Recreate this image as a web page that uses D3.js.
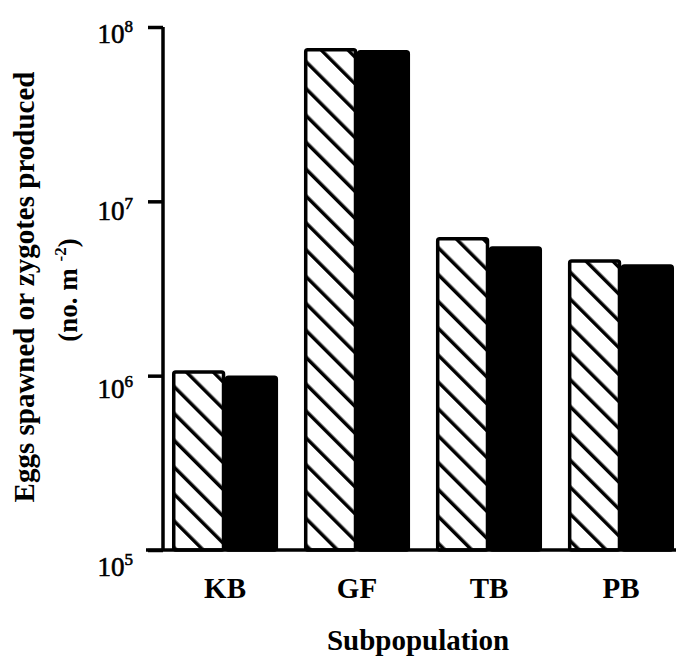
<!DOCTYPE html>
<html><head><meta charset="utf-8">
<script src="https://cdn.jsdelivr.net/npm/d3@7"></script>
<style>body{margin:0;background:#fff}svg{display:block}</style>
</head><body>
<script>
const categories = ["KB", "GF", "TB", "PB"];
const seriesNames = ["Eggs spawned", "Zygotes produced"];
const eggsSpawned = [1.05e6, 7.4e7, 6.1e6, 4.55e6];
const zygotesProduced = [0.98e6, 7.2e7, 5.4e6, 4.25e6];
const yTickExponents = [5, 6, 7, 8];

const FONT = "Liberation Serif, Times New Roman, serif";
const W = 676, H = 666;
const svg = d3.select("body").append("svg").attr("width", W).attr("height", H);
const defs = svg.append("defs");
const pat = defs.append("pattern").attr("id", "hatch").attr("patternUnits", "userSpaceOnUse")
  .attr("width", 19).attr("height", 19).attr("patternTransform", "rotate(-45)");
pat.append("rect").attr("width", 19).attr("height", 19).attr("fill", "#fff");
pat.append("line").attr("x1", 0).attr("y1", 0).attr("x2", 0).attr("y2", 19)
  .attr("stroke", "#000").attr("stroke-width", 7);

const y = d3.scaleLog().domain([1e5, 1e8]).range([550, 27]);
const labelY = d3.scaleLog().domain([1e5, 1e8]).range([575, 42]);
const x0 = d3.scaleBand().domain(categories).range([163, 683]).paddingInner(0.2).paddingOuter(0.07);
const x1 = d3.scaleBand().domain(seriesNames).range([0, x0.bandwidth()]);

const data = categories.map((c, i) => ({cat: c, vals: [eggsSpawned[i], zygotesProduced[i]]}));

const g = svg.append("g");
data.forEach(d => {
  d.vals.forEach((v, j) => {
    g.append("rect")
      .attr("x", x0(d.cat) + x1(seriesNames[j]) + 1.5)
      .attr("y", y(v))
      .attr("width", x1.bandwidth() - 3)
      .attr("height", y(1e5) - y(v))
      .attr("rx", 2)
      .attr("fill", j === 0 ? "url(#hatch)" : "#000")
      .attr("stroke", "#000").attr("stroke-width", 3.5);
  });
});

// y axis
const yAxis = d3.axisLeft(y).tickValues(yTickExponents.map(e => Math.pow(10, e))).tickSize(15).tickFormat("");
const ya = svg.append("g").attr("transform", "translate(163,0)").call(yAxis);
ya.select(".domain").attr("stroke-width", 3.5).attr("d", "M0," + y(1e8) + "V" + y(1e5));
ya.selectAll(".tick line").attr("stroke-width", 3.5);
ya.selectAll(".tick").each(function(v) {
  const t = d3.select(this).append("text").attr("x", -30).attr("y", labelY(v) - y(v))
    .attr("text-anchor", "end").attr("font-family", FONT)
    .attr("fill", "#000").attr("stroke", "#000").attr("stroke-width", 0.6);
  t.append("tspan").attr("font-size", 27).text("10");
  t.append("tspan").attr("font-size", 17).attr("dy", -11).text(String(Math.round(Math.log10(v))));
});

// baseline
svg.append("line").attr("x1", 146).attr("x2", 676).attr("y1", 550).attr("y2", 550)
  .attr("stroke", "#000").attr("stroke-width", 3.5);

// x labels
const xAxis = d3.axisBottom(x0).tickSize(0);
const xa = svg.append("g").attr("transform", "translate(0,550)").call(xAxis);
xa.select(".domain").remove();
xa.selectAll(".tick text").attr("y", 48).attr("dy", 0).attr("font-size", 29).attr("font-weight", "bold")
  .attr("font-family", FONT).attr("fill", "#000");

svg.append("text").attr("x", 418).attr("y", 650).attr("text-anchor", "middle")
  .attr("font-family", FONT).attr("font-weight", "bold")
  .attr("font-size", 29).text("Subpopulation");

const yt = svg.append("text").attr("transform", "translate(0,287) rotate(-90)")
  .attr("text-anchor", "middle").attr("font-family", FONT)
  .attr("font-weight", "bold").attr("font-size", 29);
yt.append("tspan").attr("x", 0).attr("y", 34).text("Eggs spawned or zygotes produced");
const l2 = svg.append("text").attr("transform", "translate(0,290) rotate(-90)")
  .attr("text-anchor", "middle").attr("font-family", FONT)
  .attr("font-weight", "bold").attr("font-size", 27);
l2.append("tspan").attr("x", 0).attr("y", 77).text("(no. m ");
l2.append("tspan").attr("font-size", 17).attr("dy", -11).text("-2");
l2.append("tspan").attr("dy", 11).text(")");
</script>
</body></html>
